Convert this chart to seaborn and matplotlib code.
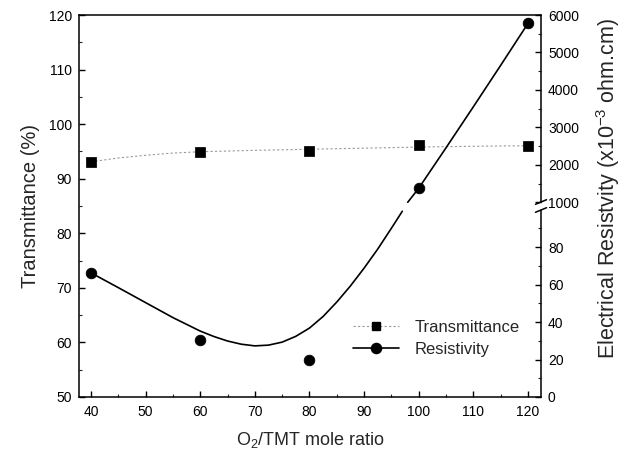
import numpy as np
import pandas as pd
import matplotlib
matplotlib.use("Agg")
import matplotlib.pyplot as plt
import seaborn as sns
from matplotlib.lines import Line2D
from matplotlib.ticker import FixedLocator

# --- data ---
ratio = [40, 60, 80, 100, 120]
transmittance = [93.1, 94.9, 95.1, 96.2, 96.0]
resistivity = [66, 30.5, 20, 1370, 5780]  # x10^-3 ohm.cm

# smooth trend lines as drawn in the original
trans_fit_x = [40, 45, 50, 55, 60, 70, 80, 90, 100, 110, 120]
trans_fit_y = [93.1, 93.8, 94.3, 94.7, 94.95, 95.2, 95.4, 95.6, 95.8, 95.95, 96.05]

res_fit_x_low = [40, 45, 50, 55, 60, 62.5, 65, 67.5, 70, 72.5, 75, 77.5,
                 80, 82.5, 85, 87.5, 90, 92.5, 95, 97]
res_fit_y_low = [66.3, 58.4, 50.4, 42.4, 35.2, 32.3, 29.9, 28.2, 27.3, 27.7,
                 29.3, 32.4, 36.8, 43.0, 50.7, 59.3, 68.8, 79.0, 90.1, 99.2]
res_fit_x_high = [98, 100, 105, 110, 115, 120]
res_fit_y_high = [1000, 1373, 2453, 3547, 4653, 5773]

x_ticks = [40, 50, 60, 70, 80, 90, 100, 110, 120]
left_ticks = [50, 60, 70, 80, 90, 100, 110, 120]
right_ticks = [0, 20, 40, 60, 80, 1000, 2000, 3000, 4000, 5000, 6000]
right_minor = [10, 30, 50, 70, 90, 1500, 2500, 3500, 4500, 5500]


# broken right axis: 0-100 on the lower half, 1000-6000 on the upper half
def brk_fwd(v):
    v = np.asarray(v, dtype=float)
    return np.where(v <= 100, v * 1.875,
                    np.where(v < 1000, 187.5 + (v - 100) * 7.5 / 900,
                             195 + (v - 1000) * 0.0375))


def brk_inv(h):
    h = np.asarray(h, dtype=float)
    return np.where(h <= 187.5, h / 1.875,
                    np.where(h < 195, 100 + (h - 187.5) * 900 / 7.5,
                             1000 + (h - 195) / 0.0375))


sns.set_theme(style="ticks")
plt.rcParams["font.family"] = ["Liberation Sans", "DejaVu Sans"]
plt.rcParams["mathtext.fontset"] = "custom"
plt.rcParams["mathtext.rm"] = "Liberation Sans"
plt.rcParams["mathtext.it"] = "Liberation Sans:italic"
plt.rcParams["mathtext.default"] = "regular"

fig = plt.figure(figsize=(6.24, 4.58), dpi=100)
ax = fig.add_axes([0.1266, 0.1332, 0.7404, 0.834])
ax2 = ax.twinx()

df_t = pd.DataFrame({"x": trans_fit_x, "y": trans_fit_y})
df_lo = pd.DataFrame({"x": res_fit_x_low, "y": res_fit_y_low})
df_hi = pd.DataFrame({"x": res_fit_x_high, "y": res_fit_y_high})

sns.lineplot(data=df_t, x="x", y="y", ax=ax, color="#9a9a9a", lw=0.8,
             linestyle=(0, (2, 2)), estimator=None, sort=False)
sns.scatterplot(x=ratio, y=transmittance, ax=ax, marker="s", s=44,
                color="black", edgecolor="black", zorder=5)

ax2.set_yscale("function", functions=(brk_fwd, brk_inv))
sns.lineplot(data=df_lo, x="x", y="y", ax=ax2, color="black", lw=1.2,
             estimator=None, sort=False)
sns.lineplot(data=df_hi, x="x", y="y", ax=ax2, color="black", lw=1.2,
             estimator=None, sort=False)
sns.scatterplot(x=ratio, y=resistivity, ax=ax2, marker="o", s=58,
                color="black", edgecolor="black", zorder=5)

ax.set_xlim(37.8, 122.4)
ax.set_ylim(50, 120)
ax2.set_ylim(0, 6000)

ax.set_xticks(x_ticks)
ax.set_xticks(np.arange(45, 121, 10), minor=True)
ax.set_yticks(left_ticks)
ax.set_yticks(np.arange(55, 120, 10), minor=True)
ax2.yaxis.set_major_locator(FixedLocator(right_ticks))
ax2.yaxis.set_minor_locator(FixedLocator(right_minor))
ax2.set_yticklabels([str(t) for t in right_ticks])

for a in (ax, ax2):
    a.tick_params(which="major", direction="in", length=4.5, width=1,
                  labelsize=10, colors="black")
    a.tick_params(which="minor", direction="in", length=2.5, width=0.8)
ax.tick_params(axis="x", pad=6)
ax.tick_params(axis="y", pad=5)
ax2.tick_params(axis="y", pad=5)

ax.set_xlabel(r"O$_2$/TMT mole ratio", fontsize=13, labelpad=8)
ax.set_ylabel("Transmittance (%)", fontsize=14.5, labelpad=6)
ax2.set_ylabel(r"Electrical Resistvity (x10$^{-3}$ ohm.cm)", fontsize=15.5)
ax2.yaxis.set_label_coords(1.115, 0.545)

for s in ax.spines.values():
    s.set_color("black")
    s.set_linewidth(1.1)
ax.spines["right"].set_visible(False)
for s in ("left", "top", "bottom", "right"):
    ax2.spines[s].set_visible(False)

# right spine drawn in two pieces with a break mark
gap_lo = 1 - (209 - 14) / 382.0
gap_hi = 1 - (201 - 14) / 382.0
ax2.plot([1, 1], [0, gap_lo], transform=ax2.transAxes, color="black",
         lw=1.1, clip_on=False)
ax2.plot([1, 1], [gap_hi, 1], transform=ax2.transAxes, color="black",
         lw=1.1, clip_on=False)
for yb in (gap_lo, gap_hi):
    ax2.plot([0.988, 1.012], [yb - 0.006, yb + 0.006],
             transform=ax2.transAxes, color="black", lw=1.1, clip_on=False)

handles = [
    Line2D([], [], color="#9a9a9a", lw=0.8, linestyle=(0, (2, 2)),
           marker="s", markersize=6.3, markerfacecolor="black",
           markeredgecolor="black"),
    Line2D([], [], color="black", lw=1.2, marker="o", markersize=7.3,
           markerfacecolor="black", markeredgecolor="black"),
]
ax.legend(handles, ["Transmittance", "Resistivity"], loc="lower left",
          bbox_to_anchor=(0.56, 0.065), frameon=False, fontsize=12,
          handlelength=2.8, handletextpad=0.9, labelspacing=0.45)
if ax2.get_legend() is not None:
    ax2.get_legend().remove()

fig.savefig("out.png", dpi=100)
